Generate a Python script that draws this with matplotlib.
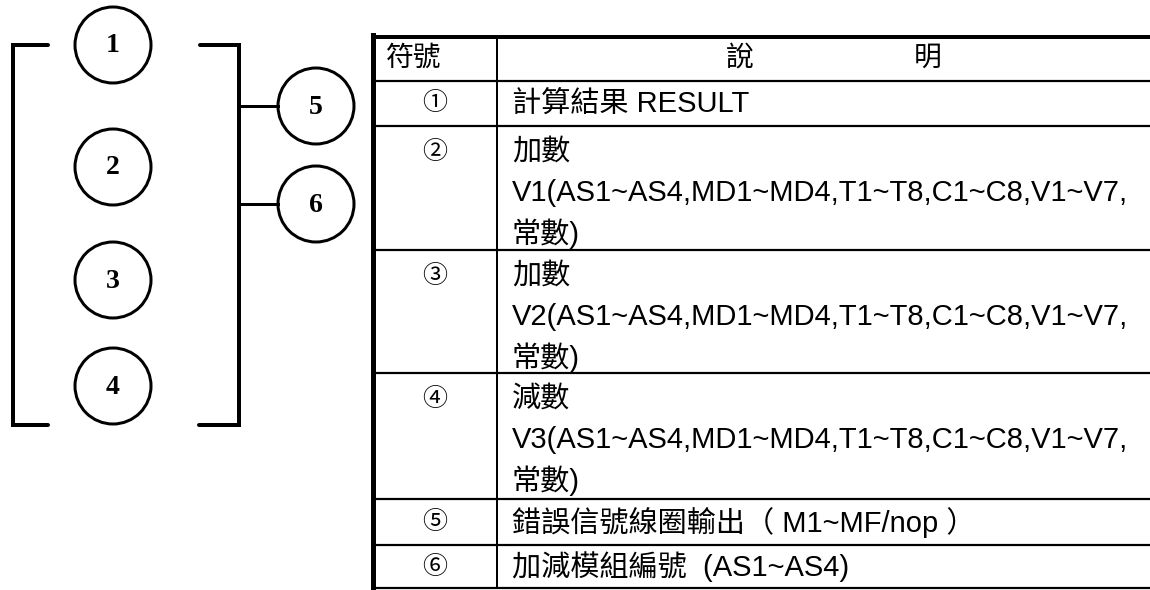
import matplotlib
matplotlib.use("Agg")
import matplotlib.pyplot as plt
from matplotlib.patches import Circle

plt.rcParams['font.family'] = ['Liberation Sans', 'Noto Sans CJK TC', 'DejaVu Sans']

# diagram labels
left_labels = ['1', '2', '3', '4']
right_labels = ['5', '6']

# table contents
header = ['符號', '說', '明']
symbols = ['①', '②', '③', '④', '⑤', '⑥']
operand = 'AS1~AS4,MD1~MD4,T1~T8,C1~C8,V1~V7,'
descriptions = [
    ['計算結果 RESULT'],
    ['加數', 'V1(' + operand, '常數)'],
    ['加數', 'V2(' + operand, '常數)'],
    ['減數', 'V3(' + operand, '常數)'],
    ['錯誤信號線圈輸出（ M1~MF/nop ）'],
    ['加減模組編號  (AS1~AS4)'],
]
row_edges = [37, 81, 126, 250, 373, 499, 545, 588]

W, H = 1150, 590
fig = plt.figure(figsize=(W / 100, H / 100), dpi=100)
ax = fig.add_axes([0, 0, 1, 1])
ax.set_xlim(0, W)
ax.set_ylim(H, 0)
ax.axis('off')

px = 0.72  # points per pixel

# ---- left diagram ----
r = 38
left_y = [45, 167, 280, 386]
for lab, cy in zip(left_labels, left_y):
    ax.add_patch(Circle((113, cy), r, fill=False, lw=3 * px, color='black'))
    ax.text(113, cy + 1, lab, ha='center', va='center', fontsize=20,
            fontweight='bold', family='Liberation Serif')

right_y = [106, 204]
for lab, cy in zip(right_labels, right_y):
    ax.add_patch(Circle((316, cy), r, fill=False, lw=3 * px, color='black'))
    ax.text(316, cy + 1, lab, ha='center', va='center', fontsize=20,
            fontweight='bold', family='Liberation Serif')
    ax.plot([239, 316 - r], [cy, cy], color='black', lw=3 * px)

blw = 4 * px
ax.plot([48, 13, 13, 48], [45, 45, 425, 425], color='black', lw=blw,
        solid_capstyle='round', solid_joinstyle='miter')
ax.plot([200, 239, 239, 199], [45, 45, 425, 425], color='black', lw=blw,
        solid_capstyle='round', solid_joinstyle='miter')

# ---- table ----
x0, xc, x1 = 373, 497, 1152
ax.plot([x0, x1], [row_edges[0], row_edges[0]], color='black', lw=4 * px)
ax.plot([x0, x0], [row_edges[0] - 2, row_edges[-1] + 1], color='black', lw=5 * px)
for yb in row_edges[1:]:
    ax.plot([x0, x1], [yb, yb], color='black', lw=2.2 * px)
ax.plot([xc, xc], [row_edges[0], row_edges[-1]], color='black', lw=2 * px)

fs = 21
hy = (row_edges[0] + row_edges[1]) / 2
ax.text(386, hy, header[0], ha='left', va='center', fontsize=fs - 1, fontweight='light')
ax.text(740, hy, header[1], ha='center', va='center', fontsize=fs - 1, fontweight='light')
ax.text(928, hy, header[2], ha='center', va='center', fontsize=fs - 1, fontweight='light')

for i, (sym, lines) in enumerate(zip(symbols, descriptions)):
    top, bot = row_edges[i + 1], row_edges[i + 2]
    if len(lines) == 1:
        ys = [(top + bot) / 2]
    else:
        ys = [top + 26 + k * 41 for k in range(len(lines))]
    ax.text(435, ys[0], sym, ha='center', va='center', fontsize=fs - 3)
    for line, y in zip(lines, ys):
        ax.text(512, y, line, ha='left', va='center', fontsize=fs)

fig.savefig('out.png', dpi=100, facecolor='white')
